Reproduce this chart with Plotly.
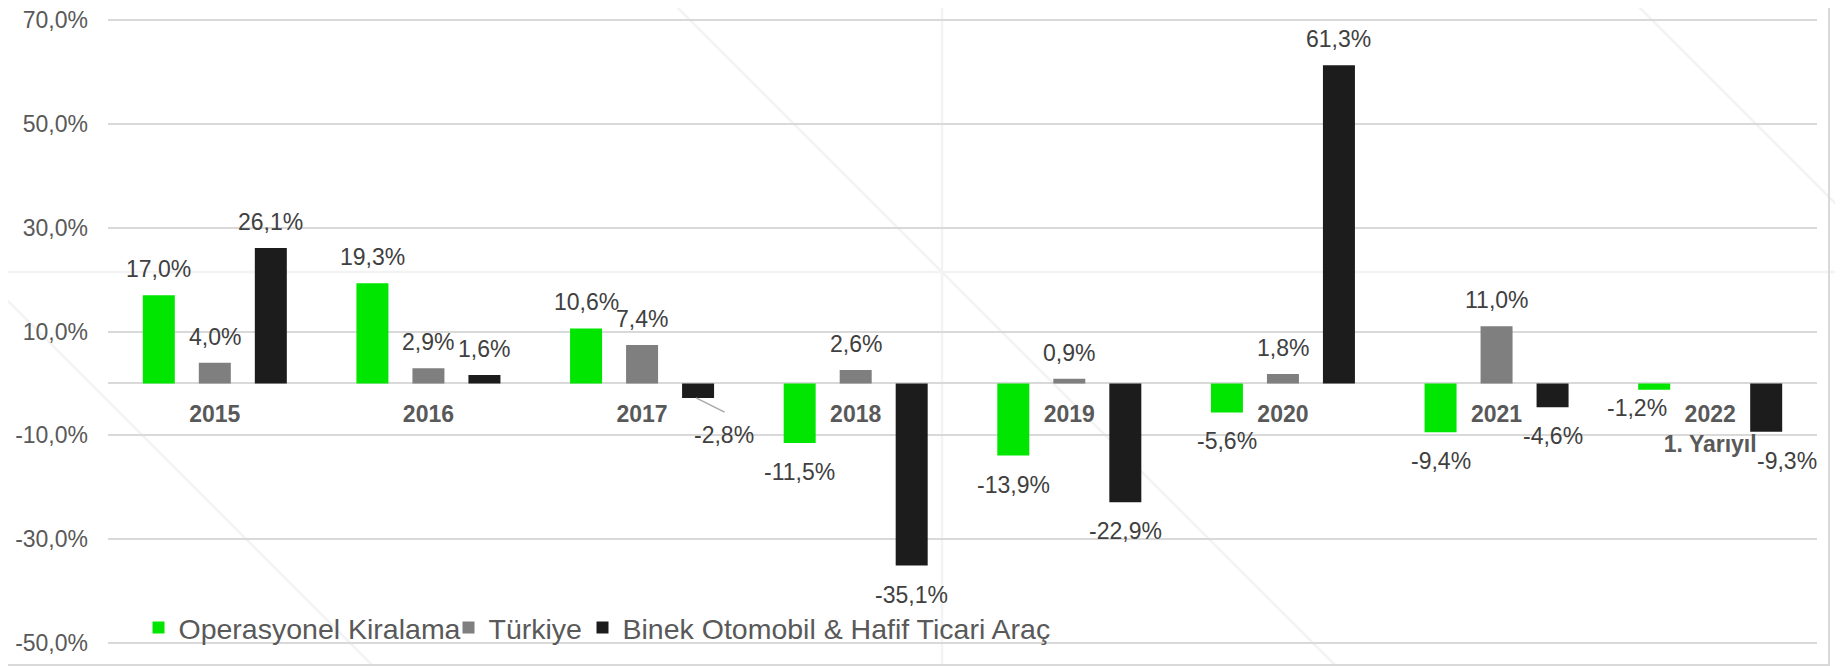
import plotly.graph_objects as go

# ---- data ----
categories = ["2015", "2016", "2017", "2018", "2019", "2020", "2021", "2022"]
category_labels = ["2015", "2016", "2017", "2018", "2019", "2020", "2021", "2022<br>1. Yarıyıl"]
operasyonel_kiralama = [17.0, 19.3, 10.6, -11.5, -13.9, -5.6, -9.4, -1.2]
turkiye = [4.0, 2.9, 7.4, 2.6, 0.9, 1.8, 11.0, None]
binek_hafif_ticari = [26.1, 1.6, -2.8, -35.1, -22.9, 61.3, -4.6, -9.3]
series_names = ["Operasyonel Kiralama", "Türkiye", "Binek Otomobil & Hafif Ticari Araç"]
y_tick_values = [-50, -30, -10, 10, 30, 50, 70]
y_tick_labels = ["-50,0%", "-30,0%", "-10,0%", "10,0%", "30,0%", "50,0%", "70,0%"]

# ---- style ----
series_colors = ["#00E600", "#7F7F7F", "#1C1C1C"]
FONT = "Liberation Sans, Arial, sans-serif"
OFF = 8                      # page body margin the figure is shifted by
W, H = 1843 - OFF, 666 - OFF
PLOT_L, PLOT_R, PLOT_T, PLOT_B = 108, 1817, 19, 644   # target absolute plot box
M_L, M_T = PLOT_L - OFF, PLOT_T - OFF
M_R, M_B = W - (PLOT_R - OFF), H - (PLOT_B - OFF)
Y_MIN, Y_MAX = -50.2, 70.2
BAR_PITCH = 56  # px between grouped bar centres
LABEL_SIZE = 23

series_values = [operasyonel_kiralama, turkiye, binek_hafif_ticari]
legend_ids = ["legend", "legend2", "legend3"]


def fmt(v):
    return f"{v:.1f}".replace(".", ",") + "%"


fig = go.Figure()
for name, vals, col, lg in zip(series_names, series_values, series_colors, legend_ids):
    fig.add_trace(go.Bar(
        x=categories, y=vals, name=name, legend=lg,
        marker=dict(color=col, line=dict(width=0)),
        hoverinfo="skip",
    ))

# data labels (x given as category index so numeric-looking names are not read as positions)
special = {  # (series index, category index): (dx, dy) extra pixel adjustments
    (0, 7): (-17, 11),
    (2, 7): (21, 0),
}
annotations = []
for si, vals in enumerate(series_values):
    for ci, v in enumerate(vals):
        if v is None:
            continue
        xs = (si - 1) * BAR_PITCH
        ys = 26 if v >= 0 else -29
        dx, dy = special.get((si, ci), (0, 0))
        if (si, ci) == (2, 2):
            # label moved aside with a leader line
            annotations.append(dict(
                x=ci, y=v, xref="x", yref="y", text="",
                showarrow=True, arrowhead=0, arrowwidth=1.3, arrowcolor="#A6A6A6",
                ax=30, ay=15, xshift=xs - 2, standoff=0,
            ))
            annotations.append(dict(
                x=ci, y=v, xref="x", yref="y", text=fmt(v),
                showarrow=False, xshift=xs + 26, yshift=-37, yanchor="middle",
                font=dict(size=LABEL_SIZE, color="#404040", family=FONT),
            ))
            continue
        annotations.append(dict(
            x=ci, y=v, xref="x", yref="y", text=fmt(v),
            showarrow=False, xshift=xs + dx, yshift=ys + dy, yanchor="middle",
            font=dict(size=LABEL_SIZE, color="#404040", family=FONT),
        ))

# absolute page pixel -> paper coordinates
pw = PLOT_R - PLOT_L
ph = PLOT_B - PLOT_T


def px(x):
    return (x - PLOT_L) / pw


def py(y):
    return (PLOT_B - y) / ph


# faint background watermark lines + chart frame
shapes = []
wm = dict(color="#F3F3F3", width=2.5)
shapes.append(dict(type="line", xref="paper", yref="paper", x0=px(0), x1=px(1843), y0=py(272), y1=py(272), line=wm, layer="below"))
shapes.append(dict(type="line", xref="paper", yref="paper", x0=px(942), x1=px(942), y0=py(OFF), y1=py(666), line=wm, layer="below"))
for c in (293, -670, -1632):
    x_start = max(OFF, -c)
    x_end = min(1843, 666 - c)
    shapes.append(dict(type="line", xref="paper", yref="paper", x0=px(x_start), y0=py(x_start + c),
                       x1=px(x_end), y1=py(x_end + c), line=wm, layer="below"))
frame = dict(color="#D9D9D9", width=2)
shapes.append(dict(type="line", xref="paper", yref="paper", x0=px(1829), x1=px(1829), y0=py(OFF), y1=py(666), line=frame, layer="below"))
shapes.append(dict(type="line", xref="paper", yref="paper", x0=px(OFF), x1=px(1829), y0=py(665), y1=py(665), line=frame, layer="below"))

legend_style = dict(
    orientation="h", xanchor="left", yanchor="middle", y=py(628),
    font=dict(size=28.5, color="#595959", family=FONT),
    bgcolor="rgba(0,0,0,0)", itemclick=False, itemdoubleclick=False,
    tracegroupgap=0, itemwidth=30,
)
legend_symbol_centres = [160, 470, 604]   # absolute x of each legend swatch

fig.update_layout(
    width=W, height=H,
    margin=dict(l=M_L, r=M_R, t=M_T, b=M_B, pad=0, autoexpand=False),
    paper_bgcolor="white", plot_bgcolor="white",
    font=dict(family=FONT, color="#595959"),
    barmode="group", bargap=0.2135, bargroupgap=0.4286,
    showlegend=True,
    legend=dict(legend_style, x=px(legend_symbol_centres[0] - 21.5)),
    legend2=dict(legend_style, x=px(legend_symbol_centres[1] - 21.5)),
    legend3=dict(legend_style, x=px(legend_symbol_centres[2] - 21.5)),
    xaxis=dict(
        type="category", categoryorder="array", categoryarray=categories,
        tickmode="array", tickvals=categories, ticktext=category_labels,
        range=[-0.5, len(categories) - 0.5], autorange=False, automargin=False,
        anchor="free", position=(0 - Y_MIN) / (Y_MAX - Y_MIN),
        showgrid=False, showline=False, zeroline=False, tickangle=0,
        ticks="outside", ticklen=10, tickcolor="rgba(0,0,0,0)",
        tickfont=dict(size=23, color="#595959", family=FONT, weight="bold"),
    ),
    yaxis=dict(
        range=[Y_MIN, Y_MAX], autorange=False, automargin=False,
        tickmode="array", tickvals=y_tick_values, ticktext=y_tick_labels,
        showgrid=True, gridcolor="#D9D9D9", gridwidth=1.5,
        zeroline=True, zerolinecolor="#D9D9D9", zerolinewidth=1.5,
        showline=False, ticks="", ticklabelstandoff=19, ticklabeloverflow="allow",
        tickfont=dict(size=23, color="#595959", family=FONT),
    ),
    annotations=annotations,
    shapes=shapes,
)

fig.write_html("out.html")
